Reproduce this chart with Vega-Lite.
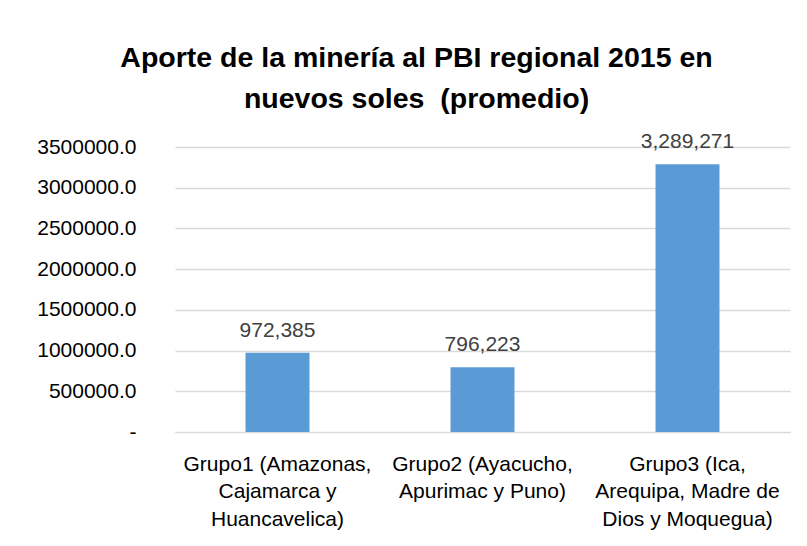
{
  "$schema": "https://vega.github.io/schema/vega-lite/v6.json",
  "autosize": {"type": "none"},
  "padding": {"left": 175, "top": 147, "right": 17, "bottom": 114},
  "width": 615,
  "height": 285,
  "background": "white",
  "title": {
    "text": ["Aporte de la minería al PBI regional 2015 en", "nuevos soles \u00a0(promedio)"],
    "font": "Liberation Sans",
    "fontSize": 28.5,
    "fontWeight": "bold",
    "color": "#000000",
    "anchor": "middle",
    "frame": "group",
    "dx": -66,
    "lineHeight": 41,
    "offset": 18
  },
  "data": {
    "values": [
      {"grupo": "Grupo1 (Amazonas,\nCajamarca y\nHuancavelica)", "aporte": 972385},
      {"grupo": "Grupo2 (Ayacucho,\nApurimac y Puno)", "aporte": 796223},
      {"grupo": "Grupo3 (Ica,\nArequipa, Madre de\nDios y Moquegua)", "aporte": 3289271}
    ]
  },
  "encoding": {
    "x": {
      "field": "grupo",
      "type": "nominal",
      "sort": null,
      "scale": {"paddingInner": 0.688, "paddingOuter": 0.344},
      "axis": {
        "title": null,
        "labelAngle": 0,
        "labelExpr": "split(datum.label, '\\n')",
        "labelFont": "Liberation Sans",
        "labelFontSize": 21,
        "labelColor": "#000000",
        "labelLineHeight": 27.5,
        "labelPadding": 21,
        "labelLimit": 300,
        "ticks": false,
        "domain": true,
        "domainColor": "#d9d9d9",
        "grid": false
      }
    },
    "y": {
      "field": "aporte",
      "type": "quantitative",
      "scale": {"domain": [0, 3500000], "nice": false},
      "axis": {
        "title": null,
        "values": [0, 500000, 1000000, 1500000, 2000000, 2500000, 3000000, 3500000],
        "labelExpr": "datum.value == 0 ? '-' : format(datum.value, '.1f')",
        "labelFont": "Liberation Sans",
        "labelFontSize": 21,
        "labelColor": "#000000",
        "labelPadding": 39,
        "ticks": false,
        "domain": false,
        "grid": true,
        "gridColor": "#d9d9d9",
        "gridWidth": 1.5,
        "encode": {"labels": {"update": {"dx": {"signal": "datum.value == 0 ? -11 : 0"}}}}
      }
    }
  },
  "layer": [
    {"mark": {"type": "bar", "color": "#5B9BD5"}},
    {
      "mark": {"type": "text", "dy": -16, "baseline": "alphabetic", "font": "Liberation Sans", "fontSize": 21, "color": "#404040"},
      "encoding": {"text": {"field": "aporte", "type": "quantitative", "format": ",.0f"}}
    }
  ],
  "config": {"view": {"stroke": null}}
}
